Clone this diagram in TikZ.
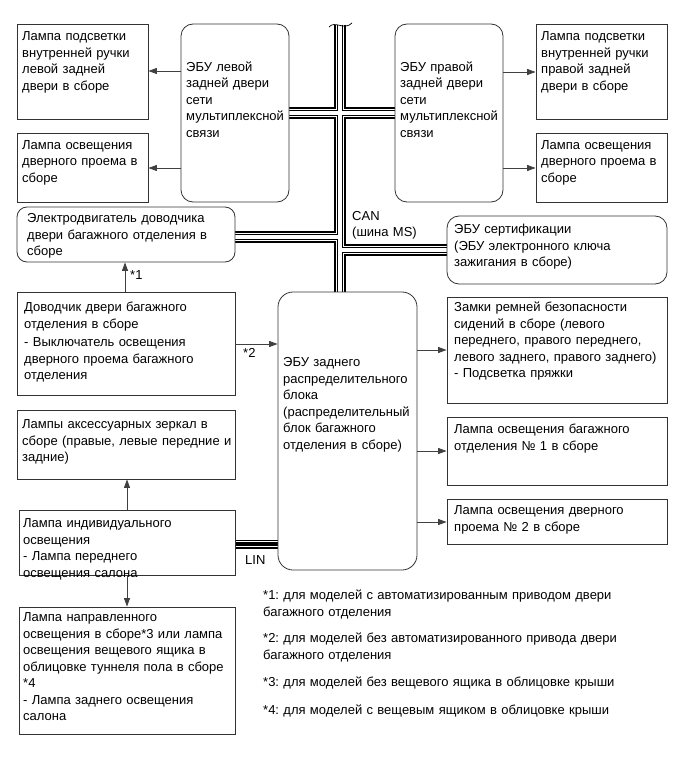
\documentclass[tikz,border=0pt]{standalone}
\usepackage{fontspec}
\setmainfont{Liberation Sans}
\usetikzlibrary{arrows.meta,fit}
\pgfdeclarelayer{background}
\pgfsetlayers{background,main}
\frenchspacing
\begin{document}
\frenchspacing
\begin{tikzpicture}[x=1pt,y=-1pt,
  box/.style={draw=black!80, line width=0.8pt, inner sep=0pt, fill=white},
  rbox/.style={box, rounded corners=12pt},
  txt/.style={anchor=base west, inner sep=0pt, align=left, text width=240pt, font=\fontsize{13}{16.5}\selectfont\frenchspacing},
  arr/.style={draw=black!75, line width=0.8pt, -{Triangle[length=8.5pt,width=6pt]}},
]
\useasboundingbox (0,0) rectangle (687,759);

% boxes
\node[box, fit={(17,24)(148,119)}] (a1) {};
\node[box, fit={(17,133)(148,202)}] (a2) {};
\node[rbox, fit={(181,24)(289,202)}] (ecuL) {};
\node[rbox, fit={(395,24)(503,202)}] (ecuR) {};
\node[box, fit={(536,24)(667,119)}] (b1) {};
\node[box, fit={(536,133)(667,202)}] (b2) {};
\node[rbox, rounded corners=10pt, fit={(17,207)(235,262)}] (motor) {};
\node[rbox, fit={(447,216)(667,284)}] (cert) {};
\node[box, fit={(17,292)(235,395)}] (dov) {};
\node[rbox, rounded corners=15pt, fit={(278,292)(417,570)}] (ecuM) {};
\node[box, fit={(447,297)(667,403)}] (belt) {};
\node[box, fit={(447,417)(667,485)}] (lamp1) {};
\node[box, fit={(447,499)(667,544)}] (lamp2) {};
\node[box, fit={(17,410)(235,479)}] (mirror) {};
\node[box, fit={(19,510)(235,575)}] (indiv) {};
\node[box, fit={(19,607)(235,734)}] (dir) {};

% texts
\node[txt] (a1t) at (22,41) {Лампа подсветки\\внутренней ручки\\левой задней\\двери в сборе};
\node[txt] (a2t) at (22,149.5) {Лампа освещения\\дверного проема в\\сборе};
\node[txt] (ecuLt) at (186,71.5) {ЭБУ левой\\задней двери\\сети\\мультиплексной\\связи};
\node[txt] (ecuRt) at (400,71.5) {ЭБУ правой\\задней двери\\сети\\мультиплексной\\связи};
\node[txt] (b1t) at (541,41) {Лампа подсветки\\внутренней ручки\\правой задней\\двери в сборе};
\node[txt] (b2t) at (541,149.5) {Лампа освещения\\дверного проема в\\сборе};
\node[txt] (motort) at (27,222.5) {Электродвигатель доводчика\\двери багажного отделения в\\сборе};
\node[txt] (certt) at (454,233.5) {ЭБУ сертификации\\(ЭБУ электронного ключа\\зажигания в сборе)};
\node[txt] (can) at (352,220.5) {CAN\\(шина MS)};
\node[txt] (dovt) at (24,311.5) {Доводчик двери багажного\\отделения в сборе\\[2pt]- Выключатель освещения\\дверного проема багажного\\отделения};
\node[txt] (ecuMt) at (283,366.5) {ЭБУ заднего\\распределительного\\блока\\(распределительный\\блок багажного\\отделения в сборе)};
\node[txt] (beltt) at (454,311.5) {Замки ремней безопасности\\сидений в сборе (левого\\переднего, правого переднего,\\левого заднего, правого заднего)\\- Подсветка пряжки};
\node[txt] (lamp1t) at (454,433.5) {Лампа освещения багажного\\отделения № 1 в сборе};
\node[txt] (lamp2t) at (454,514.5) {Лампа освещения дверного\\проема № 2 в сборе};
\node[txt] (mirrort) at (22,428.5) {Лампы аксессуарных зеркал в\\сборе (правые, левые передние и\\задние)};
\node[txt] (indivt) at (23,527.5) {Лампа индивидуального\\освещения\\- Лампа переднего\\освещения салона};
\node[txt] (dirt) at (23,621.5) {Лампа направленного\\освещения в сборе*3 или лампа\\освещения вещевого ящика в\\облицовке туннеля пола в сборе\\{}*4\\- Лампа заднего освещения\\салона};
\node[txt] (lin) at (245,564.5) {LIN};
\node[txt] (s1) at (130,279.5) {*1};
\node[txt] (s2) at (243,357.5) {*2};
\node[txt, text width=420pt] (f1) at (263,599.5) {*1: для моделей с автоматизированным приводом двери\\багажного отделения};
\node[txt, text width=420pt] (f2) at (263,642.5) {*2: для моделей без автоматизированного привода двери\\багажного отделения};
\node[txt, text width=420pt] (f3) at (263,686.5) {*3: для моделей без вещевого ящика в облицовке крыши};
\node[txt, text width=420pt] (f4) at (263,714.5) {*4: для моделей с вещевым ящиком в облицовке крыши};

% bus coordinates
\coordinate (ctop) at (340,25);
\coordinate (jt) at (340,113);
\coordinate (jl) at (340,237);
\coordinate (jr) at (340,250);
\coordinate (cbot) at (ctop |- ecuM.north);
\coordinate (lin1) at (indiv.east |- 0,544);
\coordinate (lin2) at (ecuM.west |- 0,544);

\begin{pgfonlayer}{background}
\foreach \w/\c in {12/black,8/white,6/black,3.2/white}{
  \draw[line width=\w pt, \c] (ctop) -- (cbot);
  \draw[line width=\w pt, \c] (ecuL.east |- jt) -- (ecuR.west |- jt);
  \draw[line width=\w pt, \c] (motor.east |- jl) -- (jl);
  \draw[line width=\w pt, \c] (jr) -- (cert.west |- jr);
}
\foreach \w/\c in {9/black,6.5/white,3.5/black}{
  \draw[line width=\w pt, \c] (lin1) -- (lin2);
}
\end{pgfonlayer}
% break mark at top of bus
\draw[line width=0.7pt] (329,27) .. controls (335,20) and (344,31) .. (352,23);

% arrows
\draw[arr] (ecuL.west |- 0,71) -- (a1.east |- 0,71);
\draw[arr] (ecuL.west |- 0,168) -- (a2.east |- 0,168);
\draw[arr] (ecuR.east |- 0,72) -- (b1.west |- 0,72);
\draw[arr] (ecuR.east |- 0,168) -- (b2.west |- 0,168);
\draw[arr] (dov.north -| 125,0) -- (motor.south -| 125,0);
\draw[arr] (dov.east |- 0,344) -- (ecuM.west |- 0,344);
\draw[arr] (ecuM.east |- 0,350) -- (belt.west |- 0,350);
\draw[arr] (ecuM.east |- 0,451) -- (lamp1.west |- 0,451);
\draw[arr] (ecuM.east |- 0,522) -- (lamp2.west |- 0,522);
\draw[arr] (indiv.north -| 127,0) -- (mirror.south -| 127,0);
\draw[arr] (indiv.south -| 127,0) -- (dir.north -| 127,0);
\end{tikzpicture}
\end{document}
